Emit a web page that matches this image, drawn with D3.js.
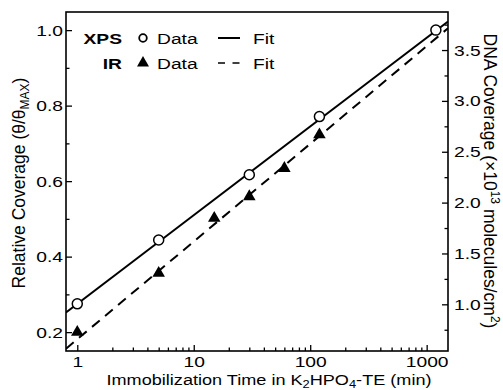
<!DOCTYPE html>
<html>
<head>
<meta charset="utf-8">
<script src="https://cdn.jsdelivr.net/npm/d3@7"></script>
<style>
  body { margin: 0; background: #fff; }
  svg { font-family: "Liberation Sans", Arial, sans-serif; }
</style>
</head>
<body>
<svg id="chart" width="503" height="390"></svg>
<script>
// XPS data (relative coverage)
var xpsTime = [1, 5, 30, 120, 1200];
var xpsCov = [0.275, 0.444, 0.617, 0.771, 1.0];

// IR data
var irTime = [1, 5, 15, 30, 60, 120];
var irCov = [0.2, 0.356, 0.502, 0.559, 0.634, 0.723];

// fit lines, read at the frame edges
var fitTime = [0.8, 1525];
var xpsFit = [0.252, 1.023];
var irFit = [0.156, 1.005];

var xTicks = [1, 10, 100, 1000];
var yTicks = [0.2, 0.4, 0.6, 0.8, 1.0];
var y2Ticks = [1.0, 1.5, 2.0, 2.5, 3.0, 3.5];

const FONT = 15.5;
const STRETCH = 1.24; // the picture's horizontal text is wider than plain Arial

const margin = { left: 66, top: 12, right: 55, bottom: 39 };
const width = 503 - margin.left - margin.right;   // 382
const height = 390 - margin.top - margin.bottom;  // 339

const svg = d3.select("#chart");
const g = svg.append("g")
    .attr("transform", `translate(${margin.left}, ${margin.top})`);

const x = d3.scaleLog().domain([0.8, 1525]).range([0, width]);
const y = d3.scaleLinear().domain([0.15, 1.048]).range([height, 0]);
const y2 = d3.scaleLinear().domain([0.541, 3.874]).range([height, 0]);

function stretch(sel, k) {
    sel.each(function() {
        var w = this.getComputedTextLength();
        d3.select(this).attr("textLength", w * (k || STRETCH)).attr("lengthAdjust", "spacingAndGlyphs");
    });
}

// minor ticks
var xMinor = [];
[1, 10, 100, 1000].forEach(d => {
    for (var k = 2; k <= 9; k++) if (d * k <= 1525) xMinor.push(d * k);
});

g.append("g").attr("transform", `translate(0, ${height})`)
    .call(d3.axisBottom(x).tickValues(xMinor).tickSize(-3.5).tickFormat(""));
g.append("g").attr("transform", `translate(0, ${height})`)
    .call(d3.axisBottom(x).tickValues(xTicks).tickSize(-6).tickPadding(5)
        .tickFormat(d3.format("d")));

g.append("g")
    .call(d3.axisLeft(y).tickValues([0.3, 0.5, 0.7, 0.9]).tickSize(-3.5).tickFormat(""));
g.append("g")
    .call(d3.axisLeft(y).tickValues(yTicks).tickSize(-6).tickPadding(3)
        .tickFormat(d3.format(".1f")));

g.append("g").attr("transform", `translate(${width}, 0)`)
    .call(d3.axisRight(y2).tickValues([0.75, 1.25, 1.75, 2.25, 2.75, 3.25, 3.75]).tickSize(-3.5).tickFormat(""));
g.append("g").attr("transform", `translate(${width}, 0)`)
    .call(d3.axisRight(y2).tickValues(y2Ticks).tickSize(-6).tickPadding(6)
        .tickFormat(d3.format(".1f")));

g.selectAll(".domain").remove();
g.selectAll(".tick line").attr("stroke", "#000").attr("stroke-width", 1.3);
g.selectAll(".tick text").attr("font-size", FONT + "px").attr("fill", "#000")
    .attr("font-family", "Liberation Sans, Arial, sans-serif")
    .call(stretch);

// frame
g.append("rect")
    .attr("width", width).attr("height", height)
    .attr("fill", "none").attr("stroke", "#000").attr("stroke-width", 1.6);

svg.append("clipPath").attr("id", "clip")
    .append("rect").attr("width", width).attr("height", height);
const plot = g.append("g").attr("clip-path", "url(#clip)");

const line = d3.line().x(d => x(d[0])).y(d => y(d[1]));

plot.append("path")
    .datum(fitTime.map((t, i) => [t, irFit[i]]))
    .attr("d", line)
    .attr("fill", "none").attr("stroke", "#000").attr("stroke-width", 2)
    .attr("stroke-dasharray", "10,7");

plot.append("path")
    .datum(fitTime.map((t, i) => [t, xpsFit[i]]))
    .attr("d", line)
    .attr("fill", "none").attr("stroke", "#000").attr("stroke-width", 2);

const tri = d3.symbol().type(d3.symbolTriangle).size(68);

plot.selectAll(".ir")
    .data(irTime.map((t, i) => [t, irCov[i]]))
    .join("path")
    .attr("class", "ir")
    .attr("d", tri)
    .attr("transform", d => `translate(${x(d[0])}, ${y(d[1])})`)
    .attr("fill", "#000");

plot.selectAll(".xps")
    .data(xpsTime.map((t, i) => [t, xpsCov[i]]))
    .join("circle")
    .attr("class", "xps")
    .attr("cx", d => x(d[0]))
    .attr("cy", d => y(d[1]))
    .attr("r", 5)
    .attr("fill", "#fff").attr("stroke", "#000").attr("stroke-width", 1.5);

// legend (svg coordinates)
const legend = svg.append("g").attr("font-size", FONT + "px");
legend.append("text").attr("x", 122).attr("y", 43.5).attr("text-anchor", "end")
    .attr("font-weight", "bold").text("XPS");
legend.append("text").attr("x", 122).attr("y", 68.5).attr("text-anchor", "end")
    .attr("font-weight", "bold").text("IR");
legend.append("circle").attr("cx", 143).attr("cy", 38).attr("r", 3.8)
    .attr("fill", "#fff").attr("stroke", "#000").attr("stroke-width", 1.8);
legend.append("path").attr("d", d3.symbol().type(d3.symbolTriangle).size(62))
    .attr("transform", "translate(143, 63)");
legend.append("text").attr("x", 157).attr("y", 43.5).text("Data");
legend.append("text").attr("x", 157).attr("y", 68.5).text("Data");
legend.append("line").attr("x1", 218).attr("x2", 240).attr("y1", 38).attr("y2", 38)
    .attr("stroke", "#000").attr("stroke-width", 2);
legend.append("line").attr("x1", 218).attr("x2", 240).attr("y1", 63).attr("y2", 63)
    .attr("stroke", "#000").attr("stroke-width", 1.6).attr("stroke-dasharray", "7,7.5");
legend.append("text").attr("x", 253).attr("y", 43.5).text("Fit");
legend.append("text").attr("x", 253).attr("y", 68.5).text("Fit");
legend.selectAll("text").call(stretch);

// axis titles
svg.append("text")
    .attr("x", 269)
    .attr("y", 385)
    .attr("text-anchor", "middle")
    .attr("font-size", FONT + "px")
    .html('Immobilization Time in K<tspan font-size="11px" dy="3">2</tspan><tspan dy="-3">HPO</tspan><tspan font-size="11px" dy="3">4</tspan><tspan dy="-3">-TE (min)</tspan>')
    .attr("textLength", 325).attr("lengthAdjust", "spacingAndGlyphs");

svg.append("text")
    .attr("transform", "translate(25, 183) rotate(-90)")
    .attr("text-anchor", "middle")
    .attr("font-size", "17.5px")
    .html('Relative Coverage (θ/θ<tspan font-size="12px" dy="4">MAX</tspan><tspan dy="-4">)</tspan>');

svg.append("text")
    .attr("transform", "translate(484, 181) rotate(90)")
    .attr("text-anchor", "middle")
    .attr("font-size", "17.5px")
    .html('DNA Coverage (×10<tspan font-size="12px" dy="-7">13</tspan><tspan dy="7"> molecules/cm</tspan><tspan font-size="12px" dy="-7">2</tspan><tspan dy="7">)</tspan>');
</script>
</body>
</html>
